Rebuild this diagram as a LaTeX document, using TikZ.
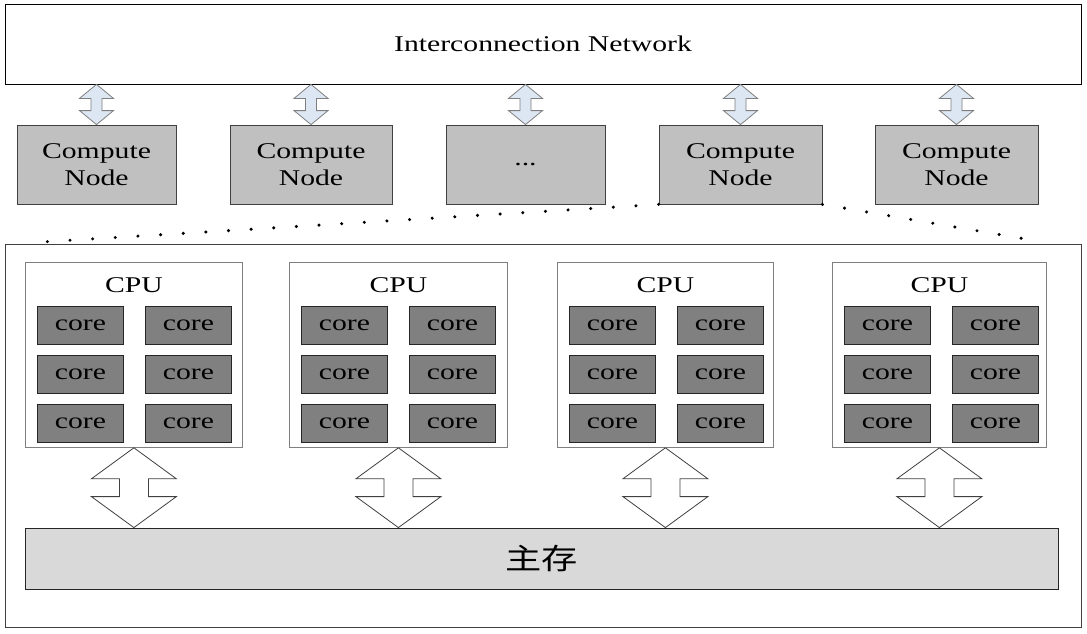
\documentclass[tikz,border=0pt]{standalone}
\usepackage{fontspec}
\setmainfont{Liberation Serif}
\newfontfamily\cjkfont{Noto Sans CJK SC}
\usepackage{graphicx}
\usetikzlibrary{calc}
\newcommand\widetxt[1]{\scalebox{1.32}[1]{#1}}
\definecolor{cnfill}{HTML}{C0C0C0}
\definecolor{corefill}{HTML}{808080}
\definecolor{memfill}{HTML}{D9D9D9}
\definecolor{arrowblue}{HTML}{DDE6F3}
\definecolor{darkline}{HTML}{404040}
\definecolor{midline}{HTML}{7F7F7F}
\begin{document}
\begin{tikzpicture}[x=1pt,y=-1pt,
  lbl/.style={font=\fontsize{22.5}{27}\selectfont},
  plainbox/.style={draw, rectangle, inner sep=0pt, line width=0.8pt},
  netbox/.style={plainbox, draw=black, fill=white, lbl},
  cnbox/.style={plainbox, draw=darkline, fill=cnfill, lbl, minimum height=79pt, align=center},
  outerbox/.style={plainbox, draw=darkline},
  cpubox/.style={plainbox, draw=midline, fill=white, minimum height=185pt},
  corebox/.style={plainbox, draw=black!85, fill=corefill, lbl, minimum width=86pt, minimum height=37.5pt},
  membox/.style={plainbox, draw=black!85, fill=memfill, font=\fontsize{29}{34}\selectfont\cjkfont},
  arrowshape/.style n args={3}{to path={let \p1=(\tikztostart), \p2=(\tikztotarget) in
     (\x1,\y1) -- (\x1+#1,\y1-#3) -- (\x1+#2,\y1-#3) -- (\x1+#2,\y2+#3) -- (\x1+#1,\y2+#3)
     -- (\x1,\y2) -- (\x1-#1,\y2+#3) -- (\x1-#2,\y2+#3) -- (\x1-#2,\y1-#3) -- (\x1-#1,\y1-#3) -- cycle}},
  smallarr/.style={arrowshape={17pt}{5.5pt}{14pt}, draw=midline, fill=arrowblue, line width=0.8pt, line join=miter},
  bigarr/.style={arrowshape={42.5pt}{14.5pt}{31pt}, draw=darkline, fill=white, line width=0.8pt, line join=miter},
  dotline/.style={draw=black, line width=3.4pt, line cap=round, dash pattern=on 0pt off #1}
]
\useasboundingbox (0,0) rectangle (1087,634);

% top network
\node[netbox, minimum width=1076pt, minimum height=80pt] (net) at (543,44) {\widetxt{Interconnection Network}};

% compute nodes
\node[cnbox, minimum width=159pt] (cn1) at (96.5,164.5) {\widetxt{Compute}\\\widetxt{Node}};
\node[cnbox, minimum width=162pt] (cn2) at (311,164.5) {\widetxt{Compute}\\\widetxt{Node}};
\node[cnbox, minimum width=159pt] (cn3) at (525.5,164.5) {\widetxt{...}};
\node[cnbox, minimum width=163pt] (cn4) at (740.5,164.5) {\widetxt{Compute}\\\widetxt{Node}};
\node[cnbox, minimum width=163pt] (cn5) at (956.5,164.5) {\widetxt{Compute}\\\widetxt{Node}};

\foreach \k in {1,...,5}
  \draw[smallarr] (net.south -| cn\k.north) to (cn\k.north);

% outer node box
\node[outerbox, minimum width=1076pt, minimum height=383pt] (outer) at (543,435.5) {};

% dotted zoom lines
\coordinate (dl) at (25,243);
\coordinate (dr) at (1043,242);
\draw[dotline=22.68pt] (cn4.south west) -- (dl);
\draw[dotline=22.4pt] (cn4.south east) -- (dr);

% memory
\node[membox, minimum width=1033pt, minimum height=61pt] (mem) at (541.5,558.5) {\scalebox{1.25}[1]{主存}};

% CPUs
\foreach \i/\l/\w in {1/25/217, 2/289/218, 3/557/216, 4/832/214} {
  \node[cpubox, anchor=north west, minimum width=\w pt] (cpu\i) at (\l,262) {};
  \node[lbl, anchor=base, inner sep=0pt] (cpulbl\i) at ($(cpu\i.north)+(0,30)$) {\widetxt{CPU}};
  \foreach \row/\dy in {1/44, 2/93, 3/142}
    \foreach \col/\dx in {1/12, 2/120}
      \node[corebox, anchor=north west] (core\i\row\col) at ($(cpu\i.north west)+(\dx,\dy)$) {\widetxt{core}};
  \draw[bigarr] (cpu\i.south) to (cpu\i.south |- mem.north);
}
\end{tikzpicture}
\end{document}
